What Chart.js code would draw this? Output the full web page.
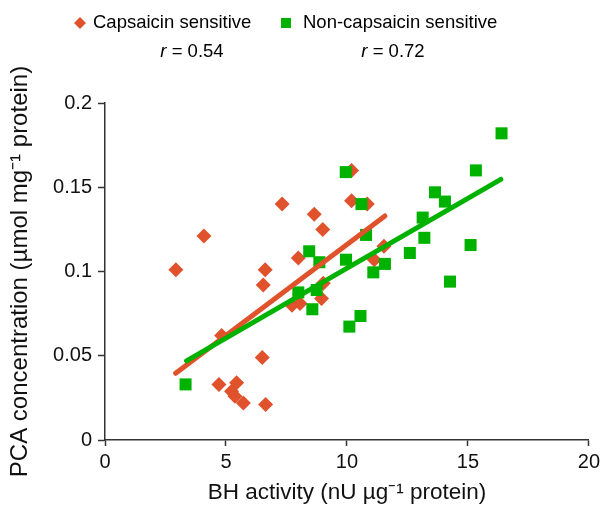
<!DOCTYPE html>
<html>
<head>
<meta charset="utf-8">
<script src="https://cdn.jsdelivr.net/npm/chart.js@4/dist/chart.umd.min.js"></script>
<style>
  html, body { margin: 0; padding: 0; background: #fff; }
</style>
</head>
<body>
<canvas id="chart" width="604" height="506"></canvas>
<script>
// Datos
const seriesNames = ['Capsaicin sensitive', 'Non-capsaicin sensitive'];
const rValues = ['0.54', '0.72'];

const capsX = [2.93, 4.09, 4.82, 4.71, 5.44, 5.23, 5.37, 5.72, 6.5, 6.62, 6.54, 6.64, 7.32,
  7.99, 7.73, 8.06, 8.65, 9.0, 9.02, 8.95, 10.19, 10.19, 10.84, 11.13, 11.53];
const capsY = [0.101, 0.121, 0.062, 0.033, 0.034, 0.029, 0.026, 0.022, 0.049, 0.101, 0.092, 0.021, 0.140,
  0.108, 0.080, 0.081, 0.134, 0.125, 0.093, 0.084, 0.160, 0.142, 0.140, 0.107, 0.115];

const nonCapsX = [3.33, 8.44, 8.86, 9.96, 7.99, 8.75, 8.57, 10.56, 10.1, 9.95, 10.6, 10.79,
  11.57, 11.09, 12.6, 13.13, 13.2, 13.64, 14.05, 14.26, 15.11, 15.33, 16.39];
const nonCapsY = [0.033, 0.112, 0.1055, 0.107, 0.0876, 0.089, 0.0776, 0.0736, 0.0673, 0.159, 0.140, 0.1217,
  0.1045, 0.0995, 0.111, 0.132, 0.120, 0.147, 0.1415, 0.094, 0.1157, 0.160, 0.182];

// Rectas de tendencia (extremos)
const capsLineX = [2.92, 11.57];
const capsLineY = [0.0396, 0.133];
const nonCapsLineX = [3.37, 16.36];
const nonCapsLineY = [0.047, 0.1547];

const xTicks = [0, 5, 10, 15, 20];
const yTicks = [0, 0.05, 0.1, 0.15, 0.2];

const ORANGE = '#E0522B';
const GREEN = '#00B200';
const FONT = "'Liberation Sans', Arial, sans-serif";

function toPoints(xs, ys) {
  return xs.map((x, i) => ({ x: x, y: ys[i] }));
}

// Leyenda propia con los valores de r debajo
const legendPlugin = {
  id: 'customLegend',
  afterDraw(chart) {
    const ctx = chart.ctx;
    ctx.save();
    ctx.textBaseline = 'middle';

    // marcador rombo
    ctx.fillStyle = ORANGE;
    ctx.beginPath();
    ctx.moveTo(80, 17); ctx.lineTo(86, 23); ctx.lineTo(80, 29); ctx.lineTo(74, 23);
    ctx.closePath();
    ctx.fill();
    // marcador cuadrado
    ctx.fillStyle = GREEN;
    ctx.fillRect(281, 18, 10, 10);

    ctx.fillStyle = '#000';
    ctx.font = '18.5px ' + FONT;
    ctx.fillText(seriesNames[0], 93, 23);
    ctx.fillText(seriesNames[1], 303, 23);

    const centers = [192, 393];
    rValues.forEach((r, i) => {
      ctx.font = 'italic 18.5px ' + FONT;
      const wr = ctx.measureText('r').width;
      ctx.font = '18.5px ' + FONT;
      const rest = ' = ' + r;
      const wrest = ctx.measureText(rest).width;
      const start = centers[i] - (wr + wrest) / 2;
      ctx.font = 'italic 18.5px ' + FONT;
      ctx.fillText('r', start, 52);
      ctx.font = '18.5px ' + FONT;
      ctx.fillText(rest, start + wr, 52);
    });
    ctx.restore();
  }
};

const chart = new Chart(document.getElementById('chart'), {
  type: 'scatter',
  data: {
    datasets: [
      {
        label: 'Non-capsaicin trend',
        data: toPoints(nonCapsLineX, nonCapsLineY),
        showLine: true,
        borderColor: GREEN,
        borderWidth: 5,
        borderCapStyle: 'round',
        pointRadius: 0,
        order: 1,
      },
      {
        label: 'Capsaicin trend',
        data: toPoints(capsLineX, capsLineY),
        showLine: true,
        borderColor: ORANGE,
        borderWidth: 5,
        borderCapStyle: 'round',
        pointRadius: 0,
        order: 2,
      },
      {
        label: seriesNames[1],
        data: toPoints(nonCapsX, nonCapsY),
        pointStyle: 'rect',
        pointRadius: 8.5,
        backgroundColor: GREEN,
        borderColor: GREEN,
        borderWidth: 0,
        order: 3,
      },
      {
        label: seriesNames[0],
        data: toPoints(capsX, capsY),
        pointStyle: 'rectRot',
        pointRadius: 7.5,
        backgroundColor: ORANGE,
        borderColor: ORANGE,
        borderWidth: 0,
        order: 4,
      },
    ],
  },
  options: {
    responsive: false,
    animation: false,
    layout: { padding: { top: 103, right: 12, left: 0, bottom: 0 } },
    plugins: {
      legend: { display: false },
      tooltip: { enabled: false },
    },
    scales: {
      x: {
        type: 'linear',
        min: 0,
        max: 20,
        afterFit(scale) { scale.height = 66; },
        afterBuildTicks(scale) { scale.ticks = xTicks.map(v => ({ value: v })); },
        grid: { drawOnChartArea: false, tickLength: 6, color: '#333', tickWidth: 1.5 },
        border: { color: '#333', width: 1.5 },
        ticks: { color: '#111', font: { family: FONT, size: 20 }, padding: 4, maxRotation: 0 },
        title: {
          display: true,
          text: 'BH activity (nU µg⁻¹ protein)',
          color: '#111',
          font: { family: FONT, size: 22.5 },
          padding: { top: 0, bottom: 0 },
        },
      },
      y: {
        type: 'linear',
        min: 0,
        max: 0.2,
        afterFit(scale) { scale.width = 105; },
        afterBuildTicks(scale) { scale.ticks = yTicks.map(v => ({ value: v })); },
        grid: { drawOnChartArea: false, tickLength: 7, color: '#333', tickWidth: 1.5 },
        border: { color: '#333', width: 1.5 },
        ticks: {
          color: '#111',
          font: { family: FONT, size: 20 },
          padding: 6,
          callback: v => String(Math.round(v * 100) / 100),
        },
        title: {
          display: true,
          text: 'PCA concentration (µmol mg⁻¹ protein)',
          color: '#111',
          font: { family: FONT, size: 24 },
          padding: { top: 6, bottom: 0 },
        },
      },
    },
  },
  plugins: [legendPlugin],
});
</script>
</body>
</html>
